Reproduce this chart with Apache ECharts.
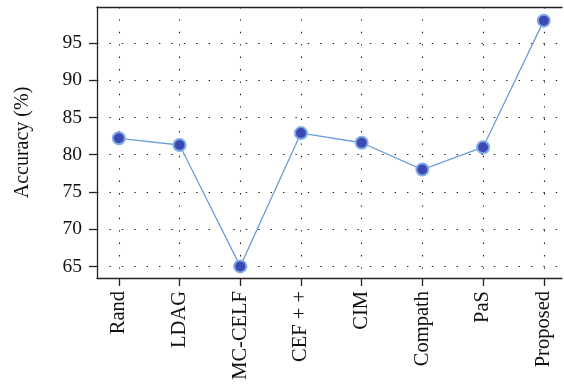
<!DOCTYPE html>
<html>
<head>
<meta charset="utf-8">
<script src="https://cdn.jsdelivr.net/npm/echarts@6/dist/echarts.min.js"></script>
<style>
  html, body { margin: 0; padding: 0; background: #fff; }
  #chart { width: 564px; height: 385px; }
</style>
</head>
<body>
<div id="chart"></div>
<script>
// Methods compared and their accuracy (%)
const categories = ['Rand', 'LDAG', 'MC-CELF', 'CEF + +', 'CIM', 'Compath', 'PaS', 'Proposed'];
const accuracy = [82.2, 81.3, 65.0, 82.9, 81.6, 78.0, 81.0, 98.0];
const yTicks = [65, 70, 75, 80, 85, 90, 95];

const positions = categories.map((_, i) => i);
const FONT = '"Liberation Serif", "DejaVu Serif", serif';
const dotted = { type: [1.4, 11], color: '#1a1a1a', width: 1.1 };

const chart = echarts.init(document.getElementById('chart'), null, { renderer: 'canvas' });
chart.setOption({
  animation: false,
  backgroundColor: '#fff',
  grid: { left: 97, right: 2, top: 7, bottom: 107, containLabel: false },
  xAxis: [
    {
      type: 'value',
      min: -0.36,
      max: 7.3,
      position: 'bottom',
      axisLine: { show: true, onZero: false, lineStyle: { color: '#222', width: 1.3 } },
      axisTick: { show: true, length: 8, customValues: positions, lineStyle: { color: '#222', width: 1.3 } },
      axisLabel: {
        customValues: positions,
        rotate: 90,
        margin: 13,
        color: '#111',
        fontFamily: FONT,
        fontSize: 20.5,
        formatter: v => categories[Math.round(v)]
      },
      splitLine: { show: true, lineStyle: dotted }
    },
    {
      type: 'value',
      min: -0.36,
      max: 7.3,
      position: 'top',
      axisLine: { show: true, onZero: false, lineStyle: { color: '#222', width: 1.3 } },
      axisTick: { show: false },
      axisLabel: { show: false },
      splitLine: { show: false }
    }
  ],
  yAxis: {
    type: 'value',
    min: 63.44,
    max: 99.83,
    name: 'Accuracy (%)',
    nameLocation: 'middle',
    nameGap: 64,
    nameTextStyle: { fontFamily: FONT, fontSize: 20, color: '#111' },
    axisLine: { show: true, onZero: false, lineStyle: { color: '#222', width: 1.3 } },
    axisTick: { show: true, length: 8, customValues: yTicks, lineStyle: { color: '#222', width: 1.3 } },
    axisLabel: {
      customValues: yTicks,
      margin: 15,
      color: '#111',
      fontFamily: FONT,
      fontSize: 19.5
    },
    splitLine: { show: true, lineStyle: dotted }
  },
  series: [{
    type: 'line',
    xAxisIndex: 0,
    data: accuracy.map((v, i) => [positions[i], v]),
    symbol: 'circle',
    symbolSize: 12,
    lineStyle: { color: '#6b9fd8', width: 1.3 },
    itemStyle: { color: '#3c49b5', borderColor: '#7faae4', borderWidth: 2 }
  }]
});
</script>
</body>
</html>
